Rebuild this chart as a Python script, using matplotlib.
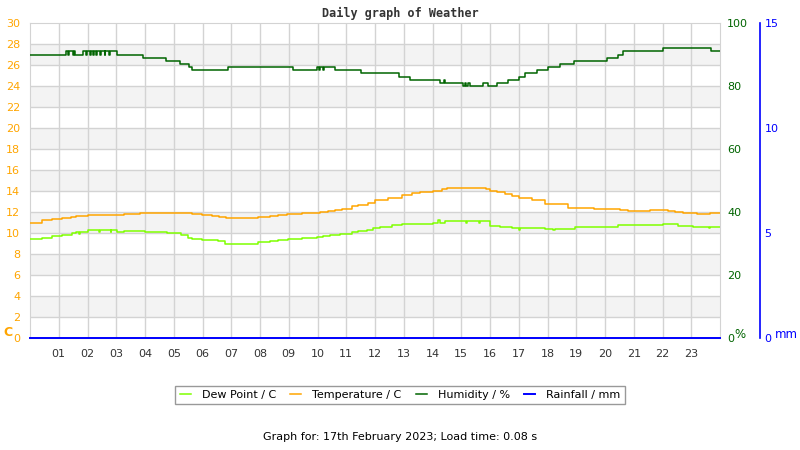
"""Daily weather graph: temperature, dew point, humidity and rainfall."""

import matplotlib

matplotlib.use("Agg")
import matplotlib.pyplot as plt

# hour of day -> reading (step changes as logged)
TEMP_HOURS = [0, 0.41, 0.75, 1.1, 1.42, 1.59, 2.03, 3.27, 3.83, 5.65, 5.99, 6.32,
              6.58, 6.8, 7.94, 8.35, 8.64, 8.95, 9.45, 10.09, 10.35, 10.61, 10.84,
              11.19, 11.42, 11.74, 12.0, 12.45, 12.93, 13.28, 13.57, 14.03, 14.32,
              14.49, 15.85, 16.0, 16.23, 16.52, 16.75, 17.02, 17.45, 17.91, 18.72,
              19.6, 20.52, 20.81, 21.57, 22.2, 22.43, 22.72, 23.19, 23.65, 24]
TEMP_VALUES = [11.0, 11.2, 11.3, 11.4, 11.5, 11.6, 11.7, 11.8, 11.9, 11.8, 11.7, 11.6,
               11.5, 11.4, 11.5, 11.6, 11.7, 11.8, 11.9, 12.0, 12.1, 12.2, 12.3,
               12.6, 12.7, 12.9, 13.1, 13.3, 13.6, 13.8, 13.9, 14.0, 14.2,
               14.3, 14.2, 14.0, 13.9, 13.7, 13.5, 13.3, 13.1, 12.8, 12.4,
               12.3, 12.2, 12.1, 12.2, 12.1, 12.0, 11.9, 11.8, 11.9, 11.9]

DEW_HOURS = [0, 0.41, 0.75, 1.1, 1.45, 1.59, 1.7, 1.75, 2.03, 2.4, 2.43, 2.8, 2.83,
             3.04, 3.27, 4.0, 4.75, 5.24, 5.51, 5.65, 5.99, 6.53, 6.78, 7.94, 8.35,
             8.64, 8.97, 9.45, 9.97, 10.2, 10.43, 10.78, 11.19, 11.42, 11.71, 11.94,
             12.17, 12.58, 12.93, 14.03, 14.2, 14.25, 14.43, 15.15, 15.2, 15.6, 15.65,
             16.0, 16.35, 16.77, 17.0, 17.05, 17.91, 18.2, 18.25, 18.96, 20.46, 22.03,
             22.55, 23.07, 23.6, 23.65, 24]
DEW_VALUES = [9.4, 9.5, 9.7, 9.8, 10.0, 10.1, 9.9, 10.1, 10.3, 10.1, 10.3, 10.1, 10.3,
              10.1, 10.2, 10.1, 10.0, 9.8, 9.5, 9.4, 9.3, 9.2, 9.0, 9.1, 9.2,
              9.3, 9.4, 9.5, 9.6, 9.7, 9.8, 9.9, 10.1, 10.2, 10.3, 10.5,
              10.6, 10.8, 10.9, 11.0, 11.2, 11.0, 11.1, 11.0, 11.1, 11.0, 11.1,
              10.7, 10.6, 10.5, 10.3, 10.5, 10.4, 10.3, 10.4, 10.6, 10.8, 10.9,
              10.7, 10.6, 10.5, 10.6, 10.6]

HUM_HOURS = [0, 1.24, 1.33, 1.36, 1.5, 1.53, 1.57, 1.83, 1.95, 1.97, 2.1, 2.12, 2.2,
             2.22, 2.3, 2.32, 2.45, 2.47, 2.6, 2.62, 2.75, 2.77, 3.04, 3.92, 4.72,
             5.23, 5.53, 5.65, 6.88, 9.16, 9.97, 10.05, 10.08, 10.2, 10.23, 10.61,
             11.5, 12.85, 13.2, 14.26, 14.4, 14.45, 15.05, 15.12, 15.18, 15.25, 15.3,
             15.37, 15.77, 15.94, 16.23, 16.63, 17.0, 17.22, 17.62, 18.03, 18.43,
             18.93, 20.08, 20.46, 20.64, 22.0, 23.69, 24]
HUM_VALUES = [90, 91, 90, 91, 90, 91, 90, 91, 90, 91, 90, 91, 90,
              91, 90, 91, 90, 91, 90, 91, 90, 91, 90, 89, 88,
              87, 86, 85, 86, 85, 86, 85, 86, 85, 86, 85,
              84, 83, 82, 81, 82, 81, 80, 81, 80, 81, 80,
              80, 81, 80, 81, 82, 83, 84, 85, 86, 87,
              88, 89, 90, 91, 92, 91, 91]

RAIN_HOURS = [0, 24]
RAIN_VALUES = [0.0, 0.0]

HOUR_LABELS = [f"{h:02d}" for h in range(1, 24)]

ORANGE = "#ffa500"
GREEN = "#006400"
BLUE = "#0000ff"
LIME = "#7fff00"
GRID = "#d3d3d3"

fig = plt.figure(figsize=(8, 4.5), dpi=100)
ax = fig.add_axes([30 / 800, 1 - 338 / 450, 690 / 800, 315 / 450])

ax.set_xlim(0, 24)
ax.set_ylim(0, 30)
for lo in range(2, 30, 4):
    ax.axhspan(lo, lo + 2, color="#f3f3f3", zorder=0, lw=0)
for y in range(2, 30, 2):
    ax.axhline(y, color=GRID, lw=1, zorder=1)
for h in range(1, 24):
    ax.axvline(h, color=GRID, lw=1, zorder=1)

dew, = ax.plot(DEW_HOURS, DEW_VALUES, drawstyle="steps-post", color=LIME, lw=1.1,
               zorder=3, label="Dew Point / C")
temp, = ax.plot(TEMP_HOURS, TEMP_VALUES, drawstyle="steps-post", color=ORANGE, lw=1.1,
                zorder=3, label="Temperature / C")

ax.set_xticks(range(1, 24), HOUR_LABELS)
ax.set_yticks(range(0, 31, 2))
ax.tick_params(axis="x", length=0, pad=8, labelsize=8, labelcolor="#333333")
ax.tick_params(axis="y", length=0, pad=7, labelsize=8, labelcolor=ORANGE)
for side in ("left", "top", "right", "bottom"):
    ax.spines[side].set_color(GRID)

hum_ax = ax.twinx()
hum_ax.set_ylim(0, 100)
hum_ax.set_yticks(range(0, 101, 20))
hum_ax.tick_params(axis="y", length=0, pad=5, labelsize=8, labelcolor=GREEN)
for side in hum_ax.spines:
    hum_ax.spines[side].set_visible(False)
hum, = hum_ax.plot(HUM_HOURS, HUM_VALUES, drawstyle="steps-post", color=GREEN, lw=1.1,
                   label="Humidity / %")

rain_ax = ax.twinx()
rain_ax.set_ylim(0, 15)
rain_ax.set_yticks([0, 5, 10, 15])
rain_ax.spines["right"].set_position(("outward", 29))
rain_ax.spines["right"].set_color(BLUE)
rain_ax.spines["right"].set_linewidth(1.2)
for side in ("left", "top", "bottom"):
    rain_ax.spines[side].set_visible(False)
rain_ax.tick_params(axis="y", length=0, pad=3, labelsize=8, labelcolor=BLUE)
rain, = rain_ax.plot(RAIN_HOURS, RAIN_VALUES, color=BLUE, lw=1.4, clip_on=False,
                     label="Rainfall / mm")

fig.text(3 / 800, 1 - 333 / 450, "C", color=ORANGE, fontsize=9, fontweight="bold",
         ha="left", va="center")
fig.text(734 / 800, 1 - 334 / 450, "%", color=GREEN, fontsize=8.5, ha="left", va="center")
fig.text(775 / 800, 1 - 335 / 450, "mm", color=BLUE, fontsize=8.5, ha="left", va="center")

fig.text(0.5, 1 - 13 / 450, "Daily graph of Weather", family="DejaVu Sans Mono",
         fontweight="bold", fontsize=8.5, color="#333333", ha="center", va="center")
fig.text(0.5, 1 - 437 / 450, "Graph for: 17th February 2023; Load time: 0.08 s",
         fontsize=8, color="black", ha="center", va="center")

leg = fig.legend(handles=[dew, temp, hum, rain], loc="center", ncol=4,
                 bbox_to_anchor=(0.5, 1 - 395 / 450), fontsize=8, handlelength=1.0,
                 columnspacing=1.25, handletextpad=1.0, fancybox=False,
                 edgecolor="#808080", borderpad=0.4)
leg.get_frame().set_linewidth(1)

fig.savefig("out.png", dpi=100)
